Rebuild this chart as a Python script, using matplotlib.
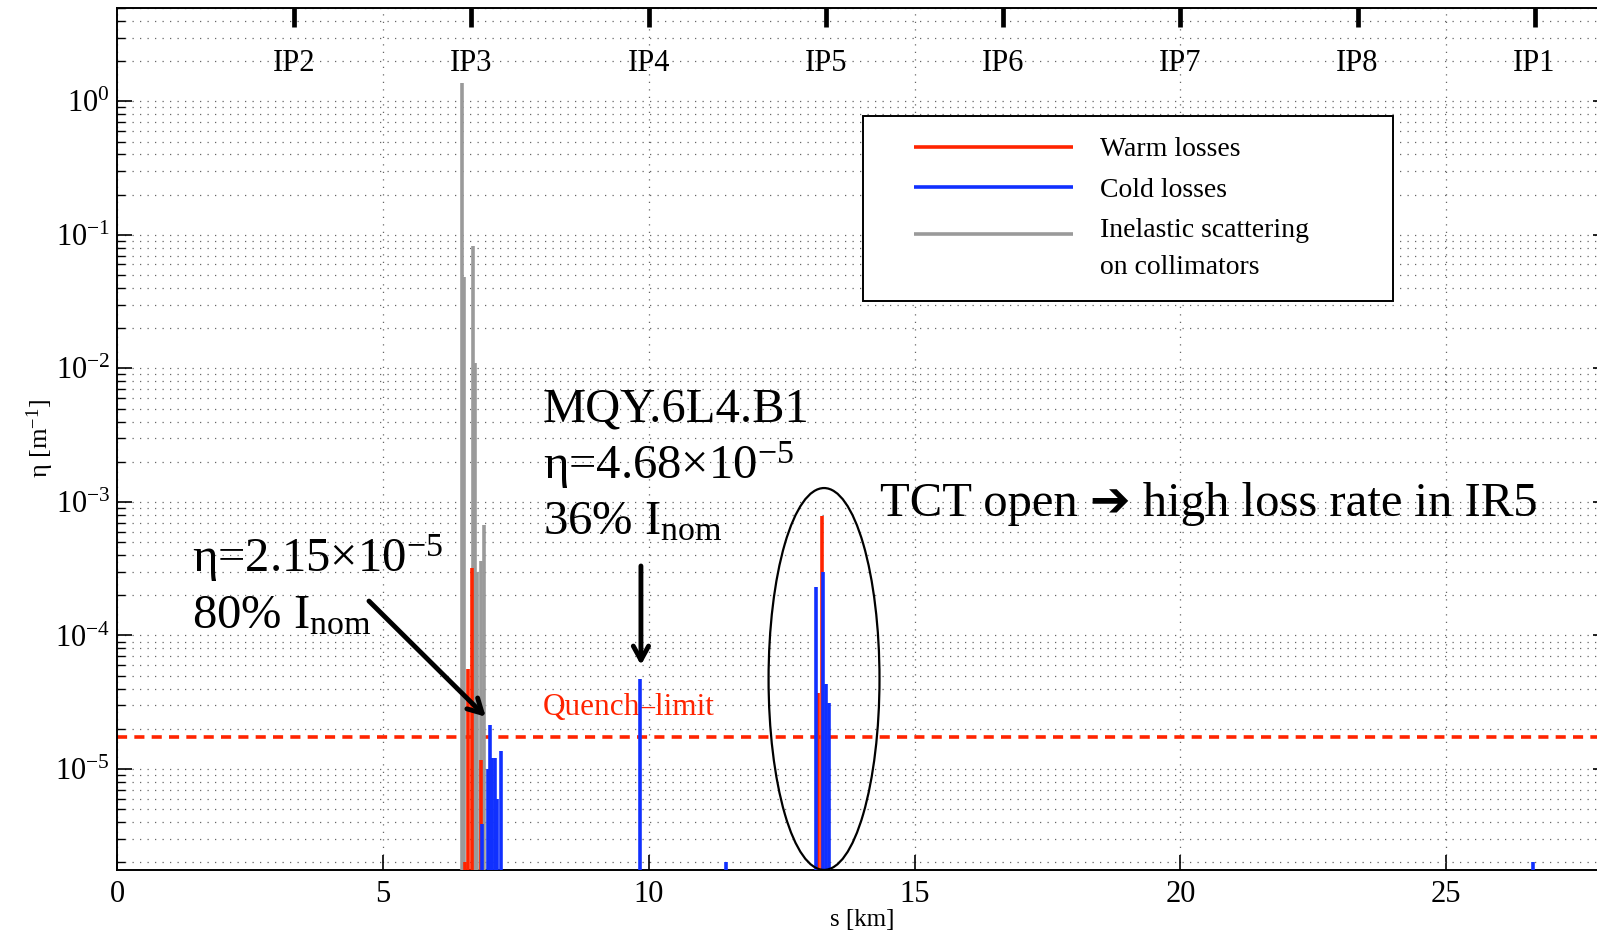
import matplotlib
matplotlib.use("Agg")
import matplotlib.pyplot as plt
from matplotlib.patches import Ellipse
from matplotlib.collections import LineCollection
from matplotlib.legend_handler import HandlerLineCollection
from matplotlib.ticker import LogLocator, LogFormatterMathtext, NullFormatter

plt.rcParams['font.family'] = ['Liberation Serif', 'DejaVu Sans']
plt.rcParams['mathtext.fontset'] = 'custom'
plt.rcParams['mathtext.rm'] = 'Liberation Serif'
plt.rcParams['mathtext.it'] = 'Liberation Serif:italic'
plt.rcParams['mathtext.bf'] = 'Liberation Serif:bold'

# positions of the interaction points (km) and their names
ip_pos = [3.33, 6.66, 10.0, 13.33, 16.66, 19.99, 23.33, 26.66]
ip_names = ['IP2', 'IP3', 'IP4', 'IP5', 'IP6', 'IP7', 'IP8', 'IP1']

# inelastic scattering on collimators
coll_s = [6.49, 6.52, 6.70, 6.73, 6.77, 6.85, 6.91]
coll_eta = [1.37, 0.048, 0.082, 0.011, 3.0e-4, 3.6e-4, 6.7e-4]

# warm losses
warm_s = [6.55, 6.61, 6.68, 6.84, 13.19, 13.25]
warm_eta = [2.0e-6, 5.6e-5, 3.2e-4, 1.17e-5, 3.7e-5, 7.9e-4]

# cold losses
cold_s = [6.87, 6.97, 7.01, 7.06, 7.11, 7.15, 7.22, 9.83, 11.45,
          13.14, 13.28, 13.33, 13.39, 26.63]
cold_eta = [3.9e-6, 1.0e-5, 2.15e-5, 1.2e-5, 1.2e-5, 6.0e-6, 1.37e-5, 4.68e-5, 2.0e-6,
            2.3e-4, 3.0e-4, 4.3e-5, 3.1e-5, 2.0e-6]

quench_limit = 1.72e-5
y_lo, y_hi = 1.75e-6, 5.0
y_major = [1e-5, 1e-4, 1e-3, 1e-2, 1e-1, 1e0]
x_major = [0, 5, 10, 15, 20, 25]

red = '#ff2400'
blue = '#1030ff'
gray = '#9a9a9a'


class RaisedHandler(HandlerLineCollection):
    # puts the legend line level with the first row of a two-line label
    def create_artists(self, legend, orig_handle, xdescent, ydescent, width, height, fontsize, trans):
        return super().create_artists(legend, orig_handle, xdescent, ydescent - 1.05 * fontsize,
                                      width, height, fontsize, trans)


fig = plt.figure(figsize=(15.97, 9.35), dpi=100)
ax = fig.add_axes([117 / 1597, 65 / 935, 1491 / 1597, 862 / 935])
ax.set_yscale('log')
ax.set_xlim(0, 28.04)
ax.set_ylim(y_lo, y_hi)

# grid (matlab style dotted)
ax.set_axisbelow(True)
ax.grid(True, which='major', axis='x', ls=(0, (1, 5)), lw=0.9, color='0.4')
ax.grid(True, which='both', axis='y', ls=(0, (1, 5)), lw=0.9, color='0.4')

ax.axhline(quench_limit, color=red, lw=2.6, ls=(0, (2.8, 2.0)), zorder=2)

h_coll = ax.vlines(coll_s, 1e-8, coll_eta, colors=gray, lw=2.6, zorder=3)
h_warm = ax.vlines(warm_s, 1e-8, warm_eta, colors=red, lw=2.6, zorder=3)
h_cold = ax.vlines(cold_s, 1e-8, cold_eta, colors=blue, lw=2.6, zorder=3)

# ticks
ax.set_yticks(y_major)
ax.yaxis.set_minor_locator(LogLocator(base=10, subs=range(2, 10), numticks=20))
ax.yaxis.set_major_formatter(LogFormatterMathtext())
ax.yaxis.set_minor_formatter(NullFormatter())
ax.set_ylim(y_lo, y_hi)
ax.set_xticks(x_major)
ax.tick_params(axis='both', which='major', direction='in', length=11, width=1.2,
               labelsize=22, top=False, right=True, pad=7)
ax.tick_params(axis='y', which='major', pad=5)
ax.tick_params(axis='y', which='minor', direction='in', length=6, width=1.0, right=True)
for sp in ax.spines.values():
    sp.set_linewidth(1.4)

ax.set_xlabel('s [km]', fontsize=18, labelpad=0)
ax.set_ylabel(r'η [m$^{-1}$]', fontsize=19)
ax.yaxis.set_label_coords(-0.041, 0.5)

# IP markers on top
trans = ax.get_xaxis_transform()
ax.vlines(ip_pos, 1 - 0.022, 1, colors='black', lw=3.4, transform=trans, clip_on=False, zorder=5)
for xp, name in zip(ip_pos, ip_names):
    ax.text(xp, 0.936, name, transform=trans, ha='center', va='center', fontsize=22)

# legend
leg = ax.legend([h_warm, h_cold, h_coll],
                ['Warm losses', 'Cold losses', 'Inelastic scattering\non collimators'],
                loc='upper left', bbox_to_anchor=(0.5003, 0.6747, 0.3555, 0.2), mode='expand',
                borderaxespad=0, fontsize=20, frameon=True, fancybox=False, framealpha=1,
                edgecolor='black', borderpad=0.75, handlelength=6.8, handletextpad=1.0,
                labelspacing=0.55,
                handler_map={LineCollection: HandlerLineCollection(xpad=1.1),
                             h_coll: RaisedHandler(xpad=1.1)})
leg.get_frame().set_linewidth(1.4)
leg.get_texts()[2].set_linespacing(1.6)
for l in leg.get_lines():
    l.set_linewidth(2.6)

# annotations
tA = ax.transAxes
big = 35
ax.text(0.2857, 0.520, 'MQY.6L4.B1', transform=tA, fontsize=big)
ax.text(0.2857, 0.454, r'η=4.68×10$^{\mathregular{-5}}$', transform=tA, fontsize=big)
ax.text(0.2857, 0.389, r'36% I$_{\mathregular{nom}}$', transform=tA, fontsize=big)
ax.text(0.0501, 0.346, r'η=2.15×10$^{\mathregular{-5}}$', transform=tA, fontsize=big)
ax.text(0.0501, 0.2803, r'80% I$_{\mathregular{nom}}$', transform=tA, fontsize=big)
ax.text(0.5117, 0.4102, 'TCT open ➔ high loss rate in IR5', transform=tA, fontsize=big)
ax.text(0.2857, 0.1798, 'Quench–limit', transform=tA, fontsize=22.5, color=red, zorder=2.5)

arrow = dict(arrowstyle='->, head_length=1.0, head_width=0.55', lw=3.5, color='black',
             shrinkA=0, shrinkB=0)
ax.annotate('', xy=(0.2473, 0.1778), xytext=(0.169, 0.312), xycoords=tA, textcoords=tA,
            arrowprops=arrow)
ax.annotate('', xy=(0.3514, 0.2378), xytext=(0.3514, 0.3527), xycoords=tA, textcoords=tA,
            arrowprops=arrow)

ax.add_patch(Ellipse((0.4742, 0.2216), 0.0744, 0.443, transform=tA, fill=False,
                     ec='black', lw=1.6, zorder=4))

fig.savefig('out.png', dpi=100)
